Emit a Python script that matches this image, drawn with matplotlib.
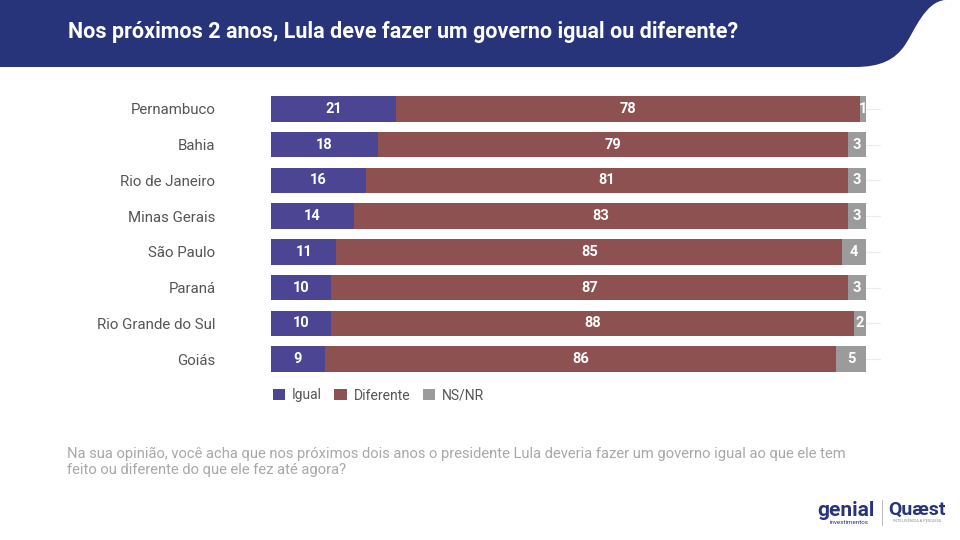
import matplotlib
matplotlib.use("Agg")
import matplotlib.pyplot as plt
from matplotlib.path import Path
from matplotlib.patches import PathPatch
import numpy as np

plt.rcParams['font.family'] = ['Roboto', 'DejaVu Sans']

states = ['Pernambuco', 'Bahia', 'Rio de Janeiro', 'Minas Gerais',
          'São Paulo', 'Paraná', 'Rio Grande do Sul', 'Goiás']
igual = [21, 18, 16, 14, 11, 10, 10, 9]
diferente = [78, 79, 81, 83, 85, 87, 88, 86]
nsnr = [1, 3, 3, 3, 4, 3, 2, 5]
series_names = ['Igual', 'Diferente', 'NS/NR']

title = 'Nos próximos 2 anos, Lula deve fazer um governo igual ou diferente?'
note = ('Na sua opinião, você acha que nos próximos dois anos o presidente Lula deveria fazer um governo igual ao que ele tem\n'
        'feito ou diferente do que ele fez até agora?')

c_navy = '#283479'
colors = ['#4b4594', '#8e5151', '#9b9b9b']

fig = plt.figure(figsize=(9.6, 5.4), dpi=100)

# background layer in pixel coordinates (header band, footnote, logos)
bg = fig.add_axes([0, 0, 1, 1])
bg.set_xlim(0, 960)
bg.set_ylim(540, 0)
bg.axis('off')

verts = [(0, 0), (945, 0),
         (925, 2), (915, 30), (905, 45),
         (895, 60), (880, 67), (855, 67),
         (0, 67), (0, 0)]
codes = [Path.MOVETO, Path.LINETO,
         Path.CURVE4, Path.CURVE4, Path.CURVE4,
         Path.CURVE4, Path.CURVE4, Path.CURVE4,
         Path.LINETO, Path.CLOSEPOLY]
bg.add_patch(PathPatch(Path(verts, codes), facecolor=c_navy, edgecolor='none'))
bg.text(68, 32, title, color='white', fontsize=15.5, fontweight='bold', va='center', ha='left')

bg.text(67, 462, note, color='#a8a8a8', fontsize=10.6, va='center', ha='left', linespacing=1.2)

# logos as text
bg.text(846, 511, 'genial', color=c_navy, fontsize=15, fontweight='bold', ha='center', va='center')
bg.text(849, 523, 'investimentos', color=c_navy, fontsize=4.5, ha='center', va='center')
bg.plot([882, 882], [500, 525], color='#b0b0b0', lw=0.6)
bg.text(917, 510, 'Quæst', color=c_navy, fontsize=14, fontweight='bold', ha='center', va='center')
bg.text(917, 522, 'INTELIGÊNCIA & PESQUISA', color='#8888a0', fontsize=2.8, ha='center', va='center')

# main chart
ax = fig.add_axes([271 / 960, 1 - 377 / 540, 610 / 960, 286 / 540])
y = np.arange(len(states))
h = 0.72
left = np.zeros(len(states))
bars = []
for vals, col, name in zip([igual, diferente, nsnr], colors, series_names):
    vals = np.array(vals, dtype=float)
    b = ax.barh(y, vals, left=left, height=h, color=col, label=name, zorder=2)
    bars.append(b)
    for yi, l, v in zip(y, left, vals):
        ax.text(l + v / 2, yi, f'{int(v)}', color='white', fontsize=10.5,
                fontweight='bold', ha='center', va='center', zorder=3)
    left += vals

ax.set_xlim(0, 100 * 610 / 595)
ax.set_ylim(len(states) - 0.5, -0.5)
ax.set_yticks(y)
ax.set_yticklabels(states, fontsize=10.8, color='#555555')
ax.tick_params(axis='y', length=0, pad=40)
ax.set_xticks([])
for s in ax.spines.values():
    s.set_visible(False)
ax.grid(axis='y', color='#ececec', lw=0.8, zorder=0)

ax.legend(handles=bars, loc='upper left', bbox_to_anchor=(260 / 960, 1 - 376 / 540),
          bbox_transform=fig.transFigure, ncol=3, frameon=False, fontsize=10,
          handlelength=0.9, handleheight=0.9, handletextpad=0.5, columnspacing=0.9,
          labelcolor='#555555')

fig.savefig('out.png', dpi=100)
